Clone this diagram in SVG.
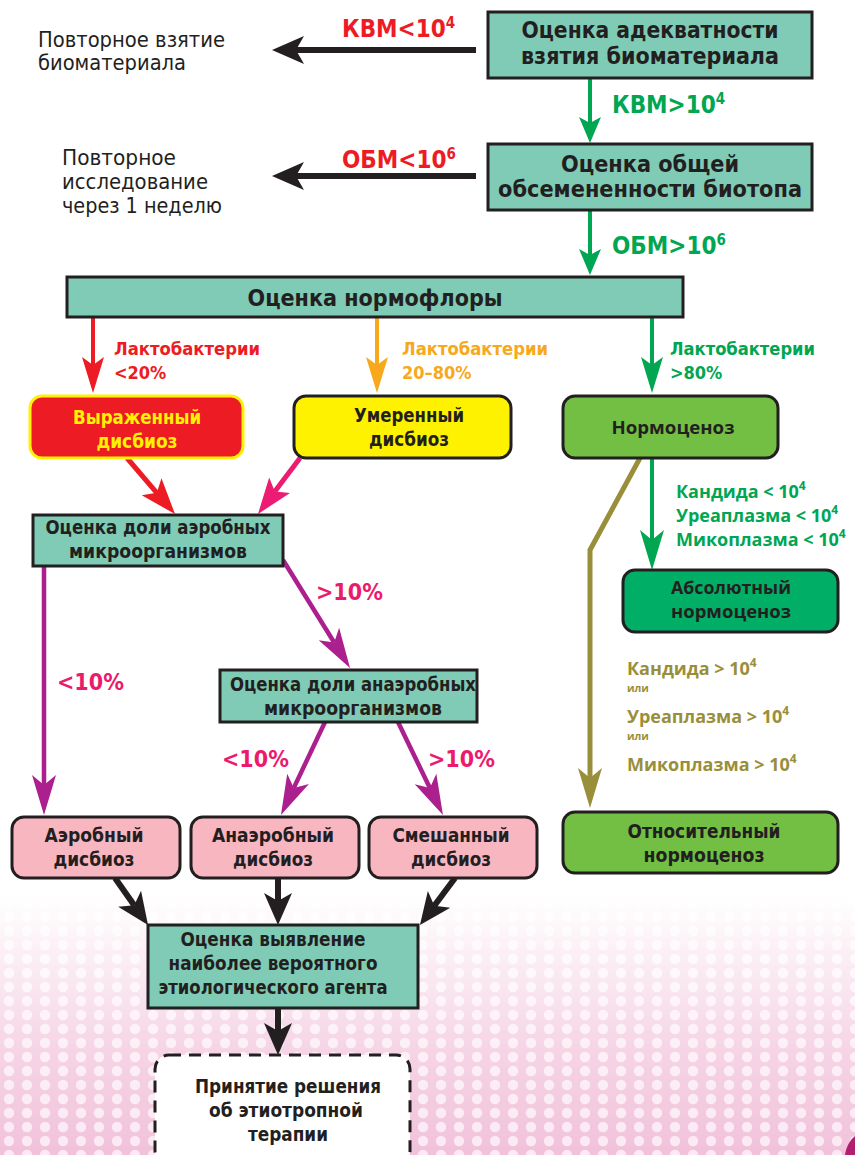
<svg xmlns="http://www.w3.org/2000/svg" width="855" height="1155" viewBox="0 0 855 1155">
<style>
.bx{font-family:"Liberation Sans Narrow","DejaVu Sans Condensed","Liberation Sans",sans-serif;font-weight:bold;fill:#231f20;text-anchor:middle}
.wd{font-family:"Open Sans","Noto Sans","DejaVu Sans",sans-serif;font-weight:bold;fill:#231f20;text-anchor:middle}
.lt{font-family:"Liberation Sans Narrow","DejaVu Sans Condensed","Liberation Sans",sans-serif;fill:#231f20}
.cl{font-family:"Liberation Sans Narrow","DejaVu Sans Condensed","Liberation Sans",sans-serif;font-weight:bold}
.ow{font-family:"Open Sans","Noto Sans","DejaVu Sans",sans-serif;font-weight:bold}
.teal{fill:#7fcbb5;stroke:#231f20;stroke-width:3}
.rb{stroke:#231f20;stroke-width:3}
.pk{fill:#f8b6c1}
.ln{fill:none}
</style>
<defs>
<pattern id="dots" width="18" height="14" patternUnits="userSpaceOnUse">
<rect width="18" height="14" fill="#f1c2da"/>
<circle cx="9" cy="7" r="5.2" fill="#fbe9f3"/>
</pattern>
<linearGradient id="fg" x1="0" y1="0" x2="0" y2="1">
<stop offset="0" stop-color="#fff" stop-opacity="0"/>
<stop offset="0.6" stop-color="#fff" stop-opacity="0.7"/>
<stop offset="1" stop-color="#fff" stop-opacity="1"/>
</linearGradient>
<mask id="fade"><rect x="0" y="895" width="855" height="260" fill="url(#fg)"/></mask>
<marker id="mBlk" markerUnits="userSpaceOnUse" markerWidth="40" markerHeight="34" refX="8" refY="15" orient="auto" overflow="visible"><path d="M0,1 L32,15 L0,29 L8,15 Z" fill="#231f20"/></marker>
<marker id="mGs" markerUnits="userSpaceOnUse" markerWidth="30" markerHeight="24" refX="6" refY="11" orient="auto" overflow="visible"><path d="M0,0 L26,11 L0,22 L6,11 Z" fill="#00a651"/></marker>
<marker id="mGl" markerUnits="userSpaceOnUse" markerWidth="44" markerHeight="26" refX="10" refY="12" orient="auto" overflow="visible"><path d="M0,0 L40,12 L0,24 L10,12 Z" fill="#00a651"/></marker>
<marker id="mR" markerUnits="userSpaceOnUse" markerWidth="40" markerHeight="24" refX="8" refY="11" orient="auto" overflow="visible"><path d="M0,0 L36,11 L0,22 L8,11 Z" fill="#ed1c24"/></marker>
<marker id="mO" markerUnits="userSpaceOnUse" markerWidth="40" markerHeight="24" refX="8" refY="11" orient="auto" overflow="visible"><path d="M0,0 L36,11 L0,22 L8,11 Z" fill="#f7a81b"/></marker>
<marker id="mG" markerUnits="userSpaceOnUse" markerWidth="40" markerHeight="24" refX="8" refY="11" orient="auto" overflow="visible"><path d="M0,0 L36,11 L0,22 L8,11 Z" fill="#00a651"/></marker>
<marker id="mRd" markerUnits="userSpaceOnUse" markerWidth="40" markerHeight="30" refX="8" refY="13" orient="auto" overflow="visible"><path d="M0,0 L36,13 L0,26 L8,13 Z" fill="#ed1c24"/></marker>
<marker id="mPd" markerUnits="userSpaceOnUse" markerWidth="40" markerHeight="30" refX="8" refY="13" orient="auto" overflow="visible"><path d="M0,0 L36,13 L0,26 L8,13 Z" fill="#ec1c72"/></marker>
<marker id="mPu" markerUnits="userSpaceOnUse" markerWidth="44" markerHeight="28" refX="10" refY="12" orient="auto" overflow="visible"><path d="M0,0 L40,12 L0,24 L10,12 Z" fill="#ab1f8e"/></marker>
<marker id="mOl" markerUnits="userSpaceOnUse" markerWidth="44" markerHeight="28" refX="10" refY="12" orient="auto" overflow="visible"><path d="M0,0 L40,12 L0,24 L10,12 Z" fill="#998f3a"/></marker>
</defs>

<g id="background">
<rect x="0" y="895" width="855" height="260" fill="url(#dots)" mask="url(#fade)"/>
<path d="M855,1136 C850,1140 846,1147 845,1155 L855,1155 Z" fill="#b0206e"/>
</g>

<g id="connectors">
<path class="ln" d="M476,50 L296,50" stroke="#231f20" stroke-width="6" marker-end="url(#mBlk)"/>
<path class="ln" d="M476,176 L296,176" stroke="#231f20" stroke-width="6" marker-end="url(#mBlk)"/>
<path class="ln" d="M590,78 L590,123" stroke="#00a651" stroke-width="4" marker-end="url(#mGs)"/>
<path class="ln" d="M590,210 L590,255" stroke="#00a651" stroke-width="4" marker-end="url(#mGs)"/>
<path class="ln" d="M93,317 L93,365" stroke="#ed1c24" stroke-width="4" marker-end="url(#mR)"/>
<path class="ln" d="M377,317 L377,365" stroke="#f7a81b" stroke-width="4" marker-end="url(#mO)"/>
<path class="ln" d="M652,317 L652,365" stroke="#00a651" stroke-width="4" marker-end="url(#mG)"/>
<path class="ln" d="M127,458 L156.8,492.8" stroke="#ed1c24" stroke-width="5" marker-end="url(#mRd)"/>
<path class="ln" d="M300,458 L274.8,491.6" stroke="#ec1c72" stroke-width="5" marker-end="url(#mPd)"/>
<path class="ln" d="M652,458 L652,540" stroke="#00a651" stroke-width="4" marker-end="url(#mGl)"/>
<path class="ln" d="M640,458 L590,550 L590,778" stroke="#998f3a" stroke-width="5" marker-end="url(#mOl)"/>
<path class="ln" d="M44,566 L44,785" stroke="#ab1f8e" stroke-width="4.5" marker-end="url(#mPu)"/>
<path class="ln" d="M283,560 L334.2,642.5" stroke="#ab1f8e" stroke-width="4.5" marker-end="url(#mPu)"/>
<path class="ln" d="M325,722 L293.8,787.9" stroke="#ab1f8e" stroke-width="4.5" marker-end="url(#mPu)"/>
<path class="ln" d="M398,722 L429.9,788" stroke="#ab1f8e" stroke-width="4.5" marker-end="url(#mPu)"/>
<path class="ln" d="M115,878 L134.2,905.3" stroke="#231f20" stroke-width="6" marker-end="url(#mBlk)"/>
<path class="ln" d="M278,878 L278,901" stroke="#231f20" stroke-width="6" marker-end="url(#mBlk)"/>
<path class="ln" d="M455,878 L434.3,905.8" stroke="#231f20" stroke-width="6" marker-end="url(#mBlk)"/>
<path class="ln" d="M278,1008 L278,1031" stroke="#231f20" stroke-width="6" marker-end="url(#mBlk)"/>
</g>

<g id="labels">
<text class="cl" x="342" y="37" font-size="24" fill="#ed1c24">КВМ&lt;10<tspan dy="-9" font-size="15">4</tspan></text>
<text class="cl" x="612" y="113" font-size="24" fill="#00a651">КВМ&gt;10<tspan dy="-9" font-size="15">4</tspan></text>
<text class="cl" x="342" y="168" font-size="24" fill="#ed1c24">ОБМ&lt;10<tspan dy="-9" font-size="15">6</tspan></text>
<text class="cl" x="612" y="254" font-size="24" fill="#00a651">ОБМ&gt;10<tspan dy="-9" font-size="15">6</tspan></text>
<text class="lt" x="38" y="47" font-size="21" textLength="187" lengthAdjust="spacingAndGlyphs">Повторное взятие</text>
<text class="lt" x="38" y="70" font-size="21" textLength="148" lengthAdjust="spacingAndGlyphs">биоматериала</text>
<text class="lt" x="62" y="165" font-size="21" textLength="114" lengthAdjust="spacingAndGlyphs">Повторное</text>
<text class="lt" x="62" y="189" font-size="21" textLength="146" lengthAdjust="spacingAndGlyphs">исследование</text>
<text class="lt" x="62" y="213" font-size="21" textLength="160" lengthAdjust="spacingAndGlyphs">через 1 неделю</text>
<text class="cl" x="114" y="355" font-size="18" fill="#ed1c24" textLength="146" lengthAdjust="spacingAndGlyphs">Лактобактерии</text>
<text class="cl" x="114" y="379" font-size="18" fill="#ed1c24">&lt;20%</text>
<text class="cl" x="402" y="355" font-size="18" fill="#f7a81b" textLength="146" lengthAdjust="spacingAndGlyphs">Лактобактерии</text>
<text class="cl" x="402" y="379" font-size="18" fill="#f7a81b">20–80%</text>
<text class="cl" x="670" y="355" font-size="18" fill="#00a651" textLength="145" lengthAdjust="spacingAndGlyphs">Лактобактерии</text>
<text class="cl" x="670" y="379" font-size="18" fill="#00a651">&gt;80%</text>
<text class="cl" x="316" y="600" font-size="23" fill="#ec1a6d">&gt;10%</text>
<text class="cl" x="57" y="690" font-size="23" fill="#ec1a6d">&lt;10%</text>
<text class="cl" x="222" y="767" font-size="23" fill="#ec1a6d">&lt;10%</text>
<text class="cl" x="428" y="767" font-size="23" fill="#ec1a6d">&gt;10%</text>
<text class="ow" x="676" y="498" font-size="18" fill="#00a651">Кандида &lt; 10<tspan dy="-8" font-size="12">4</tspan></text>
<text class="ow" x="676" y="522" font-size="18" fill="#00a651">Уреаплазма &lt; 10<tspan dy="-8" font-size="12">4</tspan></text>
<text class="ow" x="676" y="546" font-size="18" fill="#00a651">Микоплазма &lt; 10<tspan dy="-8" font-size="12">4</tspan></text>
<text class="ow" x="627" y="675" font-size="18" fill="#998f3a">Кандида &gt; 10<tspan dy="-8" font-size="12">4</tspan></text>
<text class="ow" x="627" y="692" font-size="10.5" fill="#998f3a">или</text>
<text class="ow" x="627" y="723" font-size="18" fill="#998f3a">Уреаплазма &gt; 10<tspan dy="-8" font-size="12">4</tspan></text>
<text class="ow" x="627" y="740" font-size="10.5" fill="#998f3a">или</text>
<text class="ow" x="627" y="771" font-size="18" fill="#998f3a">Микоплазма &gt; 10<tspan dy="-8" font-size="12">4</tspan></text>
</g>

<g id="n-adequacy">
<rect class="teal" x="488" y="12" width="324" height="66"/>
<text class="bx" x="650" y="38" font-size="23" textLength="257" lengthAdjust="spacingAndGlyphs">Оценка адекватности</text>
<text class="bx" x="650" y="64" font-size="23" textLength="258" lengthAdjust="spacingAndGlyphs">взятия биоматериала</text>
</g>
<g id="n-seeding">
<rect class="teal" x="488" y="144" width="324" height="66"/>
<text class="bx" x="650" y="172" font-size="23" textLength="178" lengthAdjust="spacingAndGlyphs">Оценка общей</text>
<text class="bx" x="650" y="197" font-size="23" textLength="304" lengthAdjust="spacingAndGlyphs">обсемененности биотопа</text>
</g>
<g id="n-normoflora">
<rect class="teal" x="67" y="277" width="616" height="40"/>
<text class="bx" x="375" y="306" font-size="23" textLength="255" lengthAdjust="spacingAndGlyphs">Оценка нормофлоры</text>
</g>
<g id="n-severe">
<rect x="30" y="396" width="213" height="62" rx="12" fill="#ed1c24" stroke="#fff200" stroke-width="3"/>
<text class="bx" x="137" y="424" font-size="20" style="fill:#fff200" textLength="128" lengthAdjust="spacingAndGlyphs">Выраженный</text>
<text class="bx" x="137" y="448" font-size="20" style="fill:#fff200" textLength="81" lengthAdjust="spacingAndGlyphs">дисбиоз</text>
</g>
<g id="n-moderate">
<rect class="rb" x="294" y="396" width="217" height="62" rx="12" fill="#fff200"/>
<text class="bx" x="409" y="422" font-size="20" textLength="110" lengthAdjust="spacingAndGlyphs">Умеренный</text>
<text class="bx" x="409" y="446" font-size="20" textLength="80" lengthAdjust="spacingAndGlyphs">дисбиоз</text>
</g>
<g id="n-normocenosis">
<rect class="rb" x="563" y="396" width="215" height="62" rx="12" fill="#72bf44"/>
<text class="wd" x="673" y="434" font-size="17" textLength="123" lengthAdjust="spacingAndGlyphs">Нормоценоз</text>
</g>
<g id="n-aerobic-share">
<rect class="teal" x="33" y="515" width="250" height="51"/>
<text class="bx" x="158" y="534" font-size="19" textLength="225" lengthAdjust="spacingAndGlyphs">Оценка доли аэробных</text>
<text class="bx" x="158" y="558" font-size="19" textLength="178" lengthAdjust="spacingAndGlyphs">микроорганизмов</text>
</g>
<g id="n-absolute">
<rect class="rb" x="623" y="570" width="215" height="62" rx="12" fill="#00ae66"/>
<text class="wd" x="731" y="594" font-size="17" textLength="120" lengthAdjust="spacingAndGlyphs">Абсолютный</text>
<text class="wd" x="731" y="618" font-size="17" textLength="120" lengthAdjust="spacingAndGlyphs">нормоценоз</text>
</g>
<g id="n-anaerobic-share">
<rect class="teal" x="220" y="670" width="257" height="52"/>
<text class="bx" x="353" y="691" font-size="19" textLength="246" lengthAdjust="spacingAndGlyphs">Оценка доли анаэробных</text>
<text class="bx" x="353" y="715" font-size="19" textLength="178" lengthAdjust="spacingAndGlyphs">микроорганизмов</text>
</g>
<g id="n-aerobic">
<rect class="rb pk" x="12" y="817" width="168" height="61" rx="12"/>
<text class="bx" x="94" y="842" font-size="20" textLength="99" lengthAdjust="spacingAndGlyphs">Аэробный</text>
<text class="bx" x="94" y="866" font-size="20" textLength="81" lengthAdjust="spacingAndGlyphs">дисбиоз</text>
</g>
<g id="n-anaerobic">
<rect class="rb pk" x="191" y="817" width="168" height="61" rx="12"/>
<text class="bx" x="273" y="842" font-size="20" textLength="122" lengthAdjust="spacingAndGlyphs">Анаэробный</text>
<text class="bx" x="273" y="866" font-size="20" textLength="80" lengthAdjust="spacingAndGlyphs">дисбиоз</text>
</g>
<g id="n-mixed">
<rect class="rb pk" x="369" y="817" width="168" height="61" rx="12"/>
<text class="bx" x="451" y="842" font-size="20" textLength="117" lengthAdjust="spacingAndGlyphs">Смешанный</text>
<text class="bx" x="451" y="866" font-size="20" textLength="80" lengthAdjust="spacingAndGlyphs">дисбиоз</text>
</g>
<g id="n-relative">
<rect class="rb" x="563" y="812" width="275" height="61" rx="12" fill="#72bf44"/>
<text class="bx" x="704" y="838" font-size="20" textLength="153" lengthAdjust="spacingAndGlyphs">Относительный</text>
<text class="bx" x="704" y="862" font-size="20" textLength="121" lengthAdjust="spacingAndGlyphs">нормоценоз</text>
</g>
<g id="n-etiology">
<rect class="teal" x="148" y="925" width="270" height="83"/>
<text class="bx" x="273" y="946" font-size="20" textLength="185" lengthAdjust="spacingAndGlyphs">Оценка выявление</text>
<text class="bx" x="273" y="970" font-size="20" textLength="209" lengthAdjust="spacingAndGlyphs">наиболее вероятного</text>
<text class="bx" x="273" y="994" font-size="20" textLength="229" lengthAdjust="spacingAndGlyphs">этиологического агента</text>
</g>
<g id="n-decision">
<rect x="155" y="1055" width="255" height="110" rx="14" fill="#ffffff" stroke="#231f20" stroke-width="3" stroke-dasharray="12 8"/>
<text class="bx" x="288" y="1093" font-size="20" textLength="186" lengthAdjust="spacingAndGlyphs">Принятие решения</text>
<text class="bx" x="286" y="1117" font-size="20" textLength="154" lengthAdjust="spacingAndGlyphs">об этиотропной</text>
<text class="bx" x="288" y="1141" font-size="20" textLength="80" lengthAdjust="spacingAndGlyphs">терапии</text>
</g>
</svg>
